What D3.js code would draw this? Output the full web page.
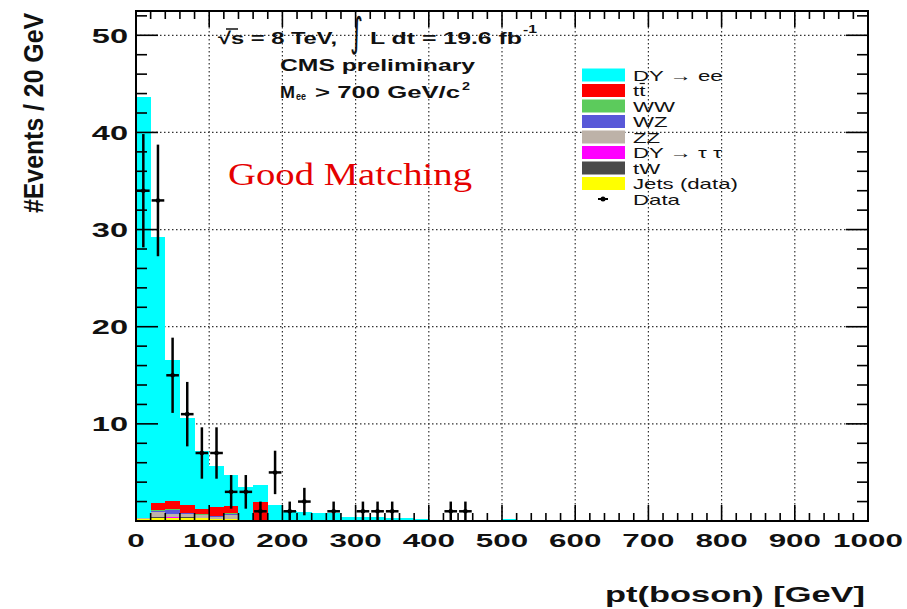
<!DOCTYPE html>
<html>
<head>
<meta charset="utf-8">
<script src="https://cdn.jsdelivr.net/npm/d3@7"></script>
<style>
  html, body { margin: 0; padding: 0; background: #fff; }
  svg { display: block; }
  text { font-family: "Liberation Sans", Arial, Helvetica, sans-serif; }
</style>
</head>
<body>
<svg id="chart" width="907" height="609"></svg>
<script>
// ---- binning: 20 GeV bins, lower edges ----
const binLow = [0, 20, 40, 60, 80, 100, 120, 140, 160, 180, 200, 220, 240,
                260, 280, 300, 320, 340, 360, 380, 400, 420, 440, 460, 480, 500];
const binWidth = 20;

// ---- expected events per bin, one array per process ----
const jets  = [0.25, 0.35, 0.30, 0.35, 0.30, 0.20, 0.25, 0, 0, 0, 0, 0, 0, 0, 0, 0, 0, 0, 0, 0, 0, 0, 0, 0, 0, 0];
const tw    = [0, 0.05, 0.05, 0.03, 0, 0, 0, 0, 0, 0, 0, 0, 0, 0, 0, 0, 0, 0, 0, 0, 0, 0, 0, 0, 0, 0];
const dytt  = [0, 0.02, 0.02, 0, 0, 0, 0, 0, 0, 0, 0, 0, 0, 0, 0, 0, 0, 0, 0, 0, 0, 0, 0, 0, 0, 0];
const zz    = [0.05, 0.50, 0.40, 0.35, 0.30, 0.25, 0.40, 0.12, 0.10, 0, 0, 0, 0, 0, 0, 0, 0, 0, 0, 0, 0, 0, 0, 0, 0, 0];
const wz    = [0, 0.15, 0.35, 0.08, 0.05, 0.02, 0.10, 0, 0, 0.10, 0, 0, 0, 0, 0, 0, 0, 0, 0, 0, 0, 0, 0, 0, 0, 0];
const ww    = [0, 0.08, 0.08, 0.05, 0.03, 0.03, 0.05, 0, 0, 0, 0, 0, 0, 0, 0, 0, 0, 0, 0, 0, 0, 0, 0, 0, 0, 0];
const ttbar = [0, 0.75, 0.85, 0.75, 0.60, 0.95, 0.75, 0, 1.90, 0, 0, 0, 0, 0, 0, 0, 0, 0, 0, 0, 0, 0, 0, 0, 0, 0];
const dyee  = [43.3, 27.3, 14.5, 9.0, 5.9, 4.2, 3.2, 3.4, 1.7, 1.5, 1.05, 0.9, 0.85, 0.8,
               0.45, 0.4, 0.4, 0.35, 0.3, 0.2, 0.15, 0.15, 0.15, 0.12, 0.12, 0.25];

// ---- observed events per bin ----
const dataCounts = [34, 33, 15, 11, 7, 7, 3, 3, 1, 5, 1, 2, 0, 1, 0, 1, 1, 1, 0, 0, 0, 1, 1, 0, 0, 0];

// ---- axis ticks ----
const xTicks = [0, 100, 200, 300, 400, 500, 600, 700, 800, 900, 1000];
const yTicks = [10, 20, 30, 40, 50];

// ---- legend ----
const legendKeys   = ["dyee", "ttbar", "ww", "wz", "zz", "dytt", "tw", "jets"];
const legendLabels = ["DY \u2192 ee", "tt", "WW", "WZ", "ZZ", "DY \u2192 \u03c4 \u03c4", "tW", "Jets (data)"];

const colors = {
  dyee: "#00ffff", ttbar: "#ff0000", ww: "#5ccb5c", wz: "#5858d8",
  zz: "#bdb2a8", dytt: "#ff00ff", tw: "#4a4a4a", jets: "#ffff00"
};
const seriesByKey = { jets, tw, dytt, zz, wz, ww, ttbar, dyee };
const stackOrder = ["jets", "tw", "dytt", "zz", "wz", "ww", "ttbar", "dyee"];

const svg = d3.select("#chart");

const x = d3.scaleLinear().domain([0, 1000]).range([136, 868]);
const y = d3.scaleLinear().domain([0, 52.5]).range([521, 11]);
const [xL, xR] = x.range();
const [yB, yT] = y.range();

// stretch glyphs horizontally by factor sx (keeps the font size for height)
function stretch(sel, sx) {
  sel.each(function () {
    const w = this.getComputedTextLength();
    d3.select(this).attr("textLength", w * sx).attr("lengthAdjust", "spacingAndGlyphs");
  });
  return sel;
}
function fitWidth(sel, width) {
  return sel.attr("textLength", width).attr("lengthAdjust", "spacingAndGlyphs");
}

// ---- grid ----
const grid = svg.append("g")
  .attr("stroke", "#333").attr("stroke-width", 1.2).attr("stroke-dasharray", "1.5,2.5");
grid.selectAll("line.v").data(xTicks.filter(t => t > 0 && t < 1000)).join("line")
  .attr("class", "v")
  .attr("x1", d => x(d)).attr("x2", d => x(d)).attr("y1", yT).attr("y2", yB);
grid.selectAll("line.h").data(yTicks).join("line")
  .attr("class", "h")
  .attr("x1", xL).attr("x2", xR).attr("y1", d => y(d)).attr("y2", d => y(d));

// ---- stacked histogram ----
const rows = binLow.map((lo, i) => {
  const r = { lo };
  stackOrder.forEach(k => { r[k] = seriesByKey[k][i]; });
  return r;
});
const stacked = d3.stack().keys(stackOrder)(rows);

svg.append("g").attr("shape-rendering", "crispEdges")
  .selectAll("g").data(stacked).join("g")
  .attr("fill", s => colors[s.key])
  .selectAll("rect").data(s => s.filter(d => d[1] - d[0] > 0)).join("rect")
  .attr("x", d => x(d.data.lo))
  .attr("width", d => x(d.data.lo + binWidth) - x(d.data.lo))
  .attr("y", d => y(d[1]))
  .attr("height", d => y(d[0]) - y(d[1]));

// ---- axis ticks (inside the frame, on all four sides) ----
const ticks = svg.append("g").attr("stroke", "#000").attr("stroke-width", 1.6);
const xMinor = d3.range(0, 1001, 20);
const yMinor = d3.range(0, 52.5, 2);
xMinor.forEach(v => {
  const len = v % 100 === 0 ? 16 : 8;
  ticks.append("line").attr("x1", x(v)).attr("x2", x(v)).attr("y1", yB).attr("y2", yB - len);
  ticks.append("line").attr("x1", x(v)).attr("x2", x(v)).attr("y1", yT).attr("y2", yT + len);
});
yMinor.forEach(v => {
  const len = v % 10 === 0 ? 22 : 11;
  ticks.append("line").attr("x1", xL).attr("x2", xL + len).attr("y1", y(v)).attr("y2", y(v));
  ticks.append("line").attr("x1", xR).attr("x2", xR - len).attr("y1", y(v)).attr("y2", y(v));
});

// ---- frame ----
svg.append("rect")
  .attr("x", xL).attr("y", yT).attr("width", xR - xL).attr("height", yB - yT)
  .attr("fill", "none").attr("stroke", "#000").attr("stroke-width", 2);

// ---- data points with Poisson errors ----
const pts = binLow.map((lo, i) => ({ lo, n: dataCounts[i] })).filter(d => d.n > 0);
const gData = svg.append("g").attr("stroke", "#000").attr("stroke-width", 2.5);
gData.selectAll("line.ey").data(pts).join("line").attr("class", "ey")
  .attr("x1", d => x(d.lo + binWidth / 2)).attr("x2", d => x(d.lo + binWidth / 2))
  .attr("y1", d => y(d.n + Math.sqrt(d.n))).attr("y2", d => y(Math.max(0, d.n - Math.sqrt(d.n))));
gData.selectAll("line.ex").data(pts).join("line").attr("class", "ex")
  .attr("x1", d => x(d.lo) + 1).attr("x2", d => x(d.lo + binWidth) - 1)
  .attr("y1", d => y(d.n)).attr("y2", d => y(d.n));
svg.append("g").selectAll("circle").data(pts).join("circle")
  .attr("cx", d => x(d.lo + binWidth / 2)).attr("cy", d => y(d.n)).attr("r", 2.3).attr("fill", "#000");

// ---- tick labels ----
svg.append("g").selectAll("text").data(xTicks).join("text")
  .attr("x", d => x(d)).attr("y", 547)
  .attr("text-anchor", "middle").attr("font-size", 19).attr("font-weight", "bold")
  .attr("fill", "#111")
  .text(d => d)
  .call(stretch, 1.65);

svg.append("g").selectAll("text").data(yTicks).join("text")
  .attr("x", 128).attr("y", d => y(d)).attr("dy", "0.36em")
  .attr("text-anchor", "end").attr("font-size", 21).attr("font-weight", "bold")
  .attr("fill", "#111")
  .text(d => d)
  .call(stretch, 1.55);

// ---- axis titles ----
svg.append("text")
  .attr("x", 865).attr("y", 602).attr("text-anchor", "end")
  .attr("font-size", 22).attr("font-weight", "bold").attr("fill", "#111")
  .text("pt(boson) [GeV]")
  .call(fitWidth, 260);

svg.append("g").attr("transform", "translate(43,13) scale(1.5,1) rotate(-90)")
  .append("text")
  .attr("text-anchor", "end").attr("font-size", 18.5).attr("font-weight", "bold").attr("fill", "#111")
  .text("#Events / 20 GeV")
  .call(fitWidth, 200);

// ---- header lines ----
const hdr = svg.append("g").attr("fill", "#111").attr("font-weight", "bold");
hdr.append("text").attr("x", 218).attr("y", 44).attr("font-size", 17).text("\u221as = 8 TeV,").call(fitWidth, 119);
hdr.append("line").attr("x1", 226).attr("x2", 238).attr("y1", 29).attr("y2", 29)
  .attr("stroke", "#111").attr("stroke-width", 1.5);
hdr.append("text").attr("x", 350).attr("y", 46).attr("font-size", 40).attr("font-weight", "normal")
  .style("font-family", "'DejaVu Sans', sans-serif").text("\u222b").call(fitWidth, 13);
hdr.append("text").attr("x", 370).attr("y", 44).attr("font-size", 17).text("L dt = 19.6 fb").call(fitWidth, 152);
hdr.append("text").attr("x", 523).attr("y", 33).attr("font-size", 11).text("-1").call(fitWidth, 14);

hdr.append("text").attr("x", 280).attr("y", 71).attr("font-size", 17).text("CMS preliminary").call(fitWidth, 195);

hdr.append("text").attr("x", 280).attr("y", 98).attr("font-size", 17).text("M").call(fitWidth, 15);
hdr.append("text").attr("x", 296).attr("y", 100).attr("font-size", 10).text("ee").call(fitWidth, 10);
hdr.append("text").attr("x", 315).attr("y", 98).attr("font-size", 17).text("> 700 GeV/c").call(fitWidth, 145);
hdr.append("text").attr("x", 462).attr("y", 90).attr("font-size", 11).text("2").call(fitWidth, 8);

// ---- legend ----
const legRowY = i => 75 + i * 15.5;
const leg = svg.append("g");
legendKeys.forEach((k, i) => {
  leg.append("rect")
    .attr("x", 582).attr("y", legRowY(i) - 6.5).attr("width", 43).attr("height", 13)
    .attr("fill", colors[k]);
  const t = leg.append("text")
    .attr("x", 633).attr("y", legRowY(i) + 5.5)
    .attr("font-size", 15).attr("fill", "#111")
    .text(legendLabels[i]);
  t.call(stretch, 1.48);
  if (k === "ttbar") {
    // bar over the second t (anti-top)
    const w = +t.attr("textLength");
    leg.append("line")
      .attr("x1", 633 + w / 2 + 0.5).attr("x2", 633 + w - 0.5)
      .attr("y1", legRowY(i) - 7).attr("y2", legRowY(i) - 7)
      .attr("stroke", "#111").attr("stroke-width", 1.2);
  }
});
// data entry
const iData = legendKeys.length;
leg.append("line")
  .attr("x1", 598).attr("x2", 608).attr("y1", legRowY(iData)).attr("y2", legRowY(iData))
  .attr("stroke", "#000").attr("stroke-width", 2);
leg.append("circle").attr("cx", 603).attr("cy", legRowY(iData)).attr("r", 2.5).attr("fill", "#000");
leg.append("text")
  .attr("x", 633).attr("y", legRowY(iData) + 5.5)
  .attr("font-size", 15).attr("fill", "#111")
  .text("Data").call(stretch, 1.48);

// ---- annotation ----
svg.append("text")
  .attr("x", 228).attr("y", 185)
  .attr("font-size", 31).attr("fill", "#e50000")
  .style("font-family", "'Liberation Serif', 'Times New Roman', serif")
  .text("Good Matching")
  .call(fitWidth, 244);
</script>
</body>
</html>
